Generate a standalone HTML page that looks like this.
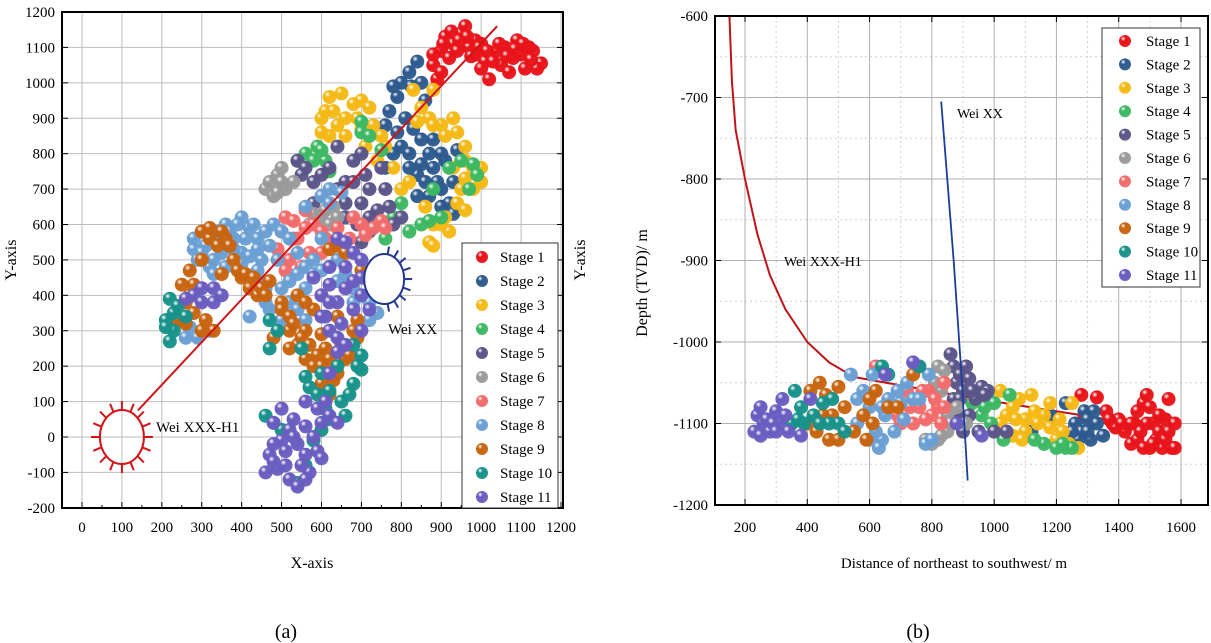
<!DOCTYPE html>
<html><head><meta charset="utf-8">
<style>
html,body{margin:0;padding:0;background:#fff;}
svg{display:block;font-family:"Liberation Serif",serif;}
</style></head>
<body>
<svg id="fig" width="1211" height="643" viewBox="0 0 1211 643" xmlns="http://www.w3.org/2000/svg">
<defs id="defs"></defs>
<g id="chartA"></g>
<g id="chartB"></g>
<text x="286" y="638" font-size="20" text-anchor="middle">(a)</text>
<text x="918" y="638" font-size="20" text-anchor="middle">(b)</text>
</svg>
<script>
const stageNames = ["Stage 1","Stage 2","Stage 3","Stage 4","Stage 5","Stage 6","Stage 7","Stage 8","Stage 9","Stage 10","Stage 11"];
const stageColors = ["#e8141a","#2d5a8e","#f5b915","#3cb863","#5a5488","#9a9a9a","#f26b6b","#6a9fd4","#c8640f","#17928a","#6a5cc0"];

// Chart A: plan view, [x, y]
const planS1 = [[880,1050],[900,1090],[910,1130],[930,1110],[950,1140],[960,1160],[970,1100],[990,1080],[1000,1110],[1010,1060],[1020,1010],[1040,1090],[1050,1050],[1060,1100],[1080,1070],[1090,1120],[1100,1080],[1110,1040],[1130,1090],[1150,1055],[1140,1040],[920,1070],[890,1010],[940,1090],[1070,1030],[985,1120],[1120,1100],[905,1110],[925,1145],[945,1120],[965,1130],[975,1075],[995,1100],[1015,1090],[1030,1060],[1045,1110],[1065,1075],[1085,1095],[1105,1110],[1125,1065],[1000,1040],[900,1030],[880,1080]];
const planS2 = [[840,1060],[820,1030],[800,1000],[790,960],[770,920],[810,900],[830,870],[850,840],[800,820],[870,800],[880,760],[840,740],[900,700],[920,660],[930,630],[870,680],[910,780],[820,760],[860,950],[890,720],[760,880],[940,810],[780,990],[825,990],[850,1000],[790,860],[820,800],[850,770],[880,840],[900,800],[930,720],[860,720],[840,680],[900,650],[780,800],[760,760]];
const planS3 = [[620,960],[650,970],[680,940],[600,900],[640,880],[700,950],[720,930],[590,820],[660,850],[740,780],[760,820],[830,980],[850,930],[870,900],[900,880],[930,900],[960,820],[980,760],[1000,720],[950,700],[920,580],[870,550],[880,540],[900,600],[820,720],[780,760],[610,920],[690,900],[960,730],[630,920],[660,900],[700,870],[730,880],[620,850],[600,860],[710,820],[750,850],[880,880],[910,850],[940,860],[960,780],[930,760],[980,700],[1000,760],[940,660],[910,620],[880,600],[860,650],[880,980],[840,890],[800,700],[960,640]];
const planS4 = [[560,800],[590,820],[610,780],[620,750],[700,890],[700,860],[750,810],[880,700],[920,760],[950,780],[980,770],[970,700],[850,600],[870,610],[820,580],[760,560],[780,620],[580,780],[600,810],[540,780],[720,850],[800,660],[900,620],[990,740]];
const planS5 = [[540,780],[560,760],[580,720],[600,680],[640,820],[680,780],[700,800],[660,660],[720,700],[740,640],[760,700],[690,600],[720,620],[780,600],[640,700],[580,660],[720,580],[700,550],[660,720],[620,760],[680,720],[700,660],[750,760],[740,600],[800,620],[660,620],[600,740],[550,740],[770,650],[710,740]];
const planS6 = [[460,700],[490,740],[500,760],[510,700],[530,720],[480,680],[600,620],[620,600],[630,650],[570,600],[640,620],[470,720],[500,720],[490,690],[610,640],[580,630]];
const planS7 = [[510,620],[530,610],[560,640],[580,600],[600,580],[650,540],[700,600],[710,570],[750,610],[540,560],[490,530],[520,500],[570,520],[680,620],[500,580],[530,560],[560,590],[610,560],[640,590],[730,590],[760,590],[550,480],[510,470],[670,560],[600,520]];
const planS8 = [[300,580],[330,560],[360,600],[400,620],[420,590],[440,560],[280,530],[290,500],[320,480],[400,520],[450,500],[480,600],[500,580],[540,520],[560,480],[580,460],[600,680],[620,700],[470,360],[500,330],[520,380],[560,330],[600,400],[640,440],[680,420],[720,380],[720,330],[260,280],[290,280],[420,340],[350,520],[380,560],[460,420],[440,470],[520,440],[640,500],[280,560],[310,540],[340,580],[370,580],[390,600],[410,560],[430,600],[460,580],[300,520],[330,500],[360,480],[380,530],[420,510],[440,530],[470,540],[490,500],[520,560],[540,460],[560,420],[600,470],[620,480],[580,500],[660,460],[700,400],[740,350],[680,380],[540,360],[500,420],[460,380],[440,440],[400,490],[330,460],[270,310],[320,300],[600,560],[650,690],[560,650],[620,660]];
const planS9 = [[300,580],[320,560],[340,540],[360,560],[380,500],[300,500],[270,470],[250,430],[270,400],[230,350],[260,320],[300,300],[330,300],[400,450],[420,420],[440,400],[470,440],[480,280],[520,300],[540,260],[560,220],[580,200],[600,150],[620,120],[640,180],[660,220],[690,280],[600,400],[580,360],[540,400],[640,540],[620,530],[500,380],[560,300],[610,250],[350,460],[320,590],[350,580],[370,540],[390,470],[410,460],[430,450],[450,420],[460,400],[280,430],[260,380],[240,330],[280,350],[310,330],[500,360],[520,340],[530,320],[550,280],[570,260],[590,230],[600,200],[620,220],[630,160],[650,260],[670,230],[680,300],[520,250],[600,290],[640,340],[560,380],[660,520],[700,470],[690,330]];
const planS10 = [[220,390],[230,350],[210,330],[230,300],[220,270],[260,340],[470,330],[490,300],[470,250],[550,250],[570,140],[600,180],[640,200],[680,150],[700,230],[720,440],[650,100],[660,60],[620,50],[460,60],[480,40],[540,-130],[560,-80],[600,20],[700,190],[210,310],[240,370],[590,120],[610,80],[670,120],[690,200],[620,130],[500,20],[580,-10],[680,260],[560,170]];
const planS11 = [[500,80],[480,40],[520,20],[540,-20],[560,30],[500,-10],[470,-50],[460,-100],[490,-90],[520,-120],[540,-140],[570,-100],[590,-40],[600,-60],[620,60],[640,40],[560,100],[560,-50],[610,100],[620,180],[640,240],[650,320],[680,360],[700,300],[700,450],[660,480],[620,430],[600,400],[640,560],[730,410],[280,400],[300,420],[330,420],[330,380],[580,450],[680,520],[610,340],[480,-20],[510,-40],[530,0],[550,-80],[580,0],[600,40],[590,80],[530,50],[510,-80],[480,-70],[560,-120],[620,300],[640,380],[660,420],[680,440],[700,400],[640,280],[660,260],[620,380],[600,340],[700,500],[660,550],[620,480],[720,360],[300,380],[260,390],[350,400]];
const planSeries = [planS1,planS2,planS3,planS4,planS5,planS6,planS7,planS8,planS9,planS10,planS11];
const planTicksX = [0,100,200,300,400,500,600,700,800,900,1000,1100,1200];
const planTicksY = [-200,-100,0,100,200,300,400,500,600,700,800,900,1000,1100,1200];
const planWellH1 = [[140,75],[1040,1160]];
const planWellXX = [757,446];

// Chart B: section view, [distance, depth]
const secS1 = [[1280,-1065],[1290,-1090],[1330,-1068],[1360,-1085],[1380,-1100],[1400,-1095],[1420,-1110],[1440,-1125],[1460,-1085],[1480,-1075],[1490,-1065],[1500,-1080],[1510,-1100],[1520,-1120],[1530,-1110],[1540,-1130],[1550,-1095],[1560,-1070],[1570,-1130],[1580,-1100],[1460,-1120],[1500,-1130],[1390,-1105],[1550,-1120],[1370,-1095],[1410,-1100],[1450,-1100],[1470,-1110],[1490,-1100],[1510,-1125],[1530,-1090],[1560,-1110],[1580,-1130],[1480,-1130],[1440,-1100]];
const secS2 = [[1230,-1075],[1260,-1100],[1280,-1110],[1290,-1085],[1300,-1095],[1310,-1120],[1330,-1100],[1350,-1115],[1240,-1120],[1180,-1090],[1120,-1110],[1300,-1110],[1320,-1085],[1270,-1120],[1250,-1110]];
const secS3 = [[1020,-1060],[1040,-1090],[1060,-1080],[1080,-1070],[1100,-1095],[1120,-1065],[1140,-1100],[1160,-1090],[1180,-1075],[1200,-1120],[1220,-1110],[1250,-1075],[1270,-1130],[1060,-1115],[1100,-1110],[1070,-1095],[1130,-1085],[1180,-1105],[1210,-1095],[1240,-1125],[1020,-1100],[1090,-1120]];
const secS4 = [[930,-1075],[960,-1090],[980,-1070],[990,-1100],[1050,-1065],[1030,-1120],[1160,-1125],[1200,-1130],[1230,-1130],[1250,-1130],[1130,-1120],[950,-1110],[970,-1080],[1000,-1075],[1220,-1125]];
const secS5 = [[860,-1015],[870,-1030],[880,-1050],[890,-1040],[900,-1060],[920,-1045],[940,-1070],[960,-1055],[980,-1060],[920,-1090],[900,-1110],[870,-1070],[950,-1110],[1000,-1110],[1040,-1110],[890,-1070],[910,-1030],[930,-1060],[880,-1090],[970,-1065]];
const secS6 = [[820,-1030],[840,-1035],[830,-1060],[850,-1090],[880,-1080],[910,-1100],[820,-1120],[850,-1110],[800,-1125],[780,-1120],[810,-1050],[860,-1100],[830,-1115]];
const secS7 = [[760,-1030],[790,-1060],[800,-1090],[820,-1080],[830,-1100],[840,-1050],[720,-1060],[740,-1100],[760,-1080],[690,-1090],[620,-1030],[700,-1100],[780,-1095],[810,-1070],[840,-1080],[730,-1080],[770,-1060]];
const secS8 = [[540,-1040],[560,-1070],[580,-1060],[600,-1080],[610,-1040],[620,-1060],[640,-1120],[650,-1090],[660,-1070],[680,-1110],[700,-1075],[720,-1050],[740,-1070],[780,-1125],[800,-1120],[620,-1110],[560,-1100],[600,-1120],[630,-1130],[580,-1090],[640,-1080],[690,-1060],[710,-1095],[760,-1070],[790,-1040]];
const secS9 = [[410,-1060],[440,-1050],[460,-1065],[480,-1090],[500,-1055],[520,-1080],[430,-1110],[470,-1120],[500,-1120],[580,-1090],[600,-1070],[620,-1060],[660,-1080],[690,-1080],[740,-1040],[400,-1100],[590,-1120],[450,-1090],[550,-1110],[610,-1100]];
const secS10 = [[360,-1060],[380,-1080],[390,-1100],[420,-1090],[450,-1075],[480,-1070],[500,-1100],[520,-1110],[470,-1100],[640,-1030],[660,-1040],[760,-1030],[350,-1100],[370,-1095],[440,-1100]];
const secS11 = [[230,-1110],[240,-1090],[250,-1080],[260,-1100],[280,-1110],[300,-1085],[310,-1100],[320,-1070],[330,-1090],[340,-1110],[250,-1115],[380,-1115],[410,-1070],[650,-1040],[740,-1025],[880,-1100],[960,-1115],[270,-1095],[290,-1100],[300,-1110]];
const secSeries = [secS1,secS2,secS3,secS4,secS5,secS6,secS7,secS8,secS9,secS10,secS11];
const secTicksX = [200,400,600,800,1000,1200,1400,1600];
const secTicksY = [-1200,-1100,-1000,-900,-800,-700,-600];
const secWellH1 = [[150,-600],[158,-680],[170,-740],[200,-800],[240,-868],[280,-918],[330,-960],[400,-1000],[470,-1025],[550,-1043],[800,-1060],[1000,-1073],[1200,-1085],[1400,-1097]];
const secWellXX = [[830,-705],[870,-900],[895,-1040],[915,-1170]];

const NS = "http://www.w3.org/2000/svg";
function mk(tag, attrs, parent){const e=document.createElementNS(NS,tag);for(const k in attrs)e.setAttribute(k,attrs[k]);if(parent)parent.appendChild(e);return e;}

const defs = document.getElementById('defs');
stageColors.forEach((c,i)=>{
  const g = mk('radialGradient',{id:'ball'+i,cx:'0.35',cy:'0.3',r:'0.7'},defs);
  mk('stop',{offset:'0','stop-color':'#ffffff'},g);
  mk('stop',{offset:'0.3','stop-color':c},g);
  mk('stop',{offset:'1','stop-color':c,'stop-opacity':'0.95'},g);
});

// ---------- Chart A ----------
(function(){
  const root = document.getElementById('chartA');
  const L=62,R=563,T=12,B=508;
  const sx = v => 82 + v*(561-82)/1200;
  const sy = v => 437 - v*(437-12)/1200;
  planTicksX.forEach(v=>{
    const l=mk('line',{x1:sx(v),x2:sx(v),y1:T,y2:B,stroke:'#bdbdbd','stroke-width':1},root);
    
    
    const t=mk('text',{x:sx(v),y:532,'font-size':15,'text-anchor':'middle'},root);t.textContent=v;
    
    
    mk('line',{x1:sx(v),x2:sx(v),y1:B,y2:B-6,stroke:'#000'},root);
    if(sx(v+50)<R) mk('line',{x1:sx(v+50),x2:sx(v+50),y1:B,y2:B-3,stroke:'#000'},root);
  });
  planTicksY.forEach(v=>{
    const l=mk('line',{x1:L,x2:R,y1:sy(v),y2:sy(v),stroke:'#bdbdbd','stroke-width':1},root);
    
    
    const t=mk('text',{x:55,y:sy(v)+5,'font-size':15,'text-anchor':'end'},root);t.textContent=v;
    
    
    mk('line',{x1:L,x2:L+6,y1:sy(v),y2:sy(v),stroke:'#000'},root);
    mk('line',{x1:R,x2:R-6,y1:sy(v),y2:sy(v),stroke:'#000'},root);
  });
  planSeries.forEach((arr,i)=>{
    const g=mk('g',{},root);
    
    
    arr.forEach(p=>{
      const c=mk('circle',{cx:sx(p[0]),cy:sy(p[1]),r:7,fill:'url(#ball'+i+')'},g);
      
      
    });
  });
  const wl=mk('line',{x1:sx(planWellH1[0][0]),y1:sy(planWellH1[0][1]),x2:sx(planWellH1[1][0]),y2:sy(planWellH1[1][1]),stroke:'#d0141a','stroke-width':2},root);
  
  
  const gh=mk('g',{stroke:'#d0141a','stroke-width':2,fill:'none'},root);
  
  
  const hcx=sx(100),hcy=sy(0);
  mk('ellipse',{cx:hcx,cy:hcy,rx:22,ry:27},gh);
  for(let k=0;k<16;k++){const a=k*Math.PI/8;const c=Math.cos(a),s=Math.sin(a);
    mk('line',{x1:hcx+22*c,y1:hcy+27*s,x2:hcx+31*c,y2:hcy+36*s},gh);}
  const gx=mk('g',{stroke:'#23398f','stroke-width':2,fill:'none'},root);
  
  
  const xcx=sx(planWellXX[0]),xcy=sy(planWellXX[1]);
  mk('ellipse',{cx:xcx,cy:xcy,rx:20,ry:25,fill:'#fff'},gx);
  for(let k=-4;k<=4;k++){const a=k*Math.PI/9;const c=Math.cos(a),s=Math.sin(a);
    mk('line',{x1:xcx+20*c,y1:xcy+25*s,x2:xcx+28*c,y2:xcy+33*s},gx);}
  let t=mk('text',{x:156,y:432,'font-size':15},root);t.textContent='Wei XXX-H1';
  
  t=mk('text',{x:388,y:334,'font-size':15},root);t.textContent='Wei XX';
  
  mk('rect',{x:L,y:T,width:R-L,height:B-T,fill:'none',stroke:'#000','stroke-width':2},root);
  const lg=mk('g',{},root);
  
  
  mk('rect',{x:462,y:243,width:96,height:265,fill:'#fff',stroke:'#333','stroke-width':1},lg);
  stageNames.forEach((n,i)=>{
    const y=257+i*24;
    const e=mk('g',{},lg);
    
    
    mk('circle',{cx:482,cy:y,r:6,fill:'url(#ball'+i+')'},e);
    const tt=mk('text',{x:500,y:y+5,'font-size':15},e);tt.textContent=n;
  });
  t=mk('text',{x:0,y:0,'font-size':16,'text-anchor':'middle',transform:'translate(16,260) rotate(-90)'},root);t.textContent='Y-axis';
  
  t=mk('text',{x:0,y:0,'font-size':16,'text-anchor':'middle',transform:'translate(585,260) rotate(-90)'},root);t.textContent='Y-axis';
  
  t=mk('text',{x:312,y:568,'font-size':16,'text-anchor':'middle'},root);t.textContent='X-axis';
  
})();

// ---------- Chart B ----------
(function(){
  const root=document.getElementById('chartB');
  const L=715,R=1208,T=16,B=505;
  const sx = v => 745 + (v-200)*(1181-745)/1400;
  const sy = v => 16 + (-600 - v)*(505-16)/600;
  const clip=mk('clipPath',{id:'clipB'},defs);mk('rect',{x:L,y:T,width:R-L,height:B-T},clip);
  const minorX=[100,300,500,700,900,1100,1300,1500,1700];
  minorX.forEach(v=>{if(sx(v)>L&&sx(v)<R)mk('line',{x1:sx(v),x2:sx(v),y1:T,y2:B,stroke:'#cfcfcf','stroke-dasharray':'2,3'},root);});
  [-1150,-1050,-950,-850,-750,-650].forEach(v=>mk('line',{x1:L,x2:R,y1:sy(v),y2:sy(v),stroke:'#cfcfcf','stroke-dasharray':'2,3'},root));
  secTicksX.forEach(v=>{
    const l=mk('line',{x1:sx(v),x2:sx(v),y1:T,y2:B,stroke:'#b0b0b0'},root);
    
    
    mk('line',{x1:sx(v),x2:sx(v),y1:B,y2:B-6,stroke:'#000'},root);
    mk('line',{x1:sx(v),x2:sx(v),y1:T,y2:T+6,stroke:'#000'},root);
    const t=mk('text',{x:sx(v),y:532,'font-size':15,'text-anchor':'middle'},root);t.textContent=v;
    
    
  });
  secTicksY.forEach(v=>{
    const l=mk('line',{x1:L,x2:R,y1:sy(v),y2:sy(v),stroke:'#b0b0b0'},root);
    
    
    mk('line',{x1:L,x2:L+6,y1:sy(v),y2:sy(v),stroke:'#000'},root);
    mk('line',{x1:R,x2:R-6,y1:sy(v),y2:sy(v),stroke:'#000'},root);
    const t=mk('text',{x:708,y:sy(v)+5,'font-size':15,'text-anchor':'end'},root);t.textContent=v;
    
    
  });
  const pts=a=>a.map(p=>sx(p[0])+','+sy(p[1])).join(' ');
  const h1=mk('polyline',{points:pts(secWellH1),fill:'none',stroke:'#c0141a','stroke-width':2,'stroke-linejoin':'round','clip-path':'url(#clipB)'},root);
  
  
  secSeries.forEach((arr,i)=>{
    const g=mk('g',{},root);
    
    
    arr.forEach(p=>{
      const c=mk('circle',{cx:sx(p[0]),cy:sy(p[1]),r:7,fill:'url(#ball'+i+')'},g);
      
      
    });
  });
  const xx=mk('polyline',{points:pts(secWellXX),fill:'none',stroke:'#1c3d9a','stroke-width':1.8},root);
  
  
  let t=mk('text',{x:784,y:266,'font-size':14},root);t.textContent='Wei XXX-H1';
  
  t=mk('text',{x:957,y:118,'font-size':14},root);t.textContent='Wei XX';
  
  mk('rect',{x:L,y:T,width:R-L,height:B-T,fill:'none',stroke:'#000','stroke-width':2},root);
  const lg=mk('g',{},root);
  
  
  mk('rect',{x:1102,y:28,width:98,height:259,fill:'#fff',stroke:'#333'},lg);
  stageNames.forEach((n,i)=>{
    const y=41+i*23.4;
    const e=mk('g',{},lg);
    
    
    mk('circle',{cx:1125,cy:y,r:6,fill:'url(#ball'+i+')'},e);
    const tt=mk('text',{x:1146,y:y+5,'font-size':15},e);tt.textContent=n;
  });
  t=mk('text',{x:0,y:0,'font-size':16,'text-anchor':'middle',transform:'translate(647,283) rotate(-90)'},root);t.textContent='Depth (TVD)/ m';
  
  t=mk('text',{x:954,y:568,'font-size':15,'text-anchor':'middle'},root);t.textContent='Distance of northeast to southwest/ m';
  
})();
</script>
</body></html>
